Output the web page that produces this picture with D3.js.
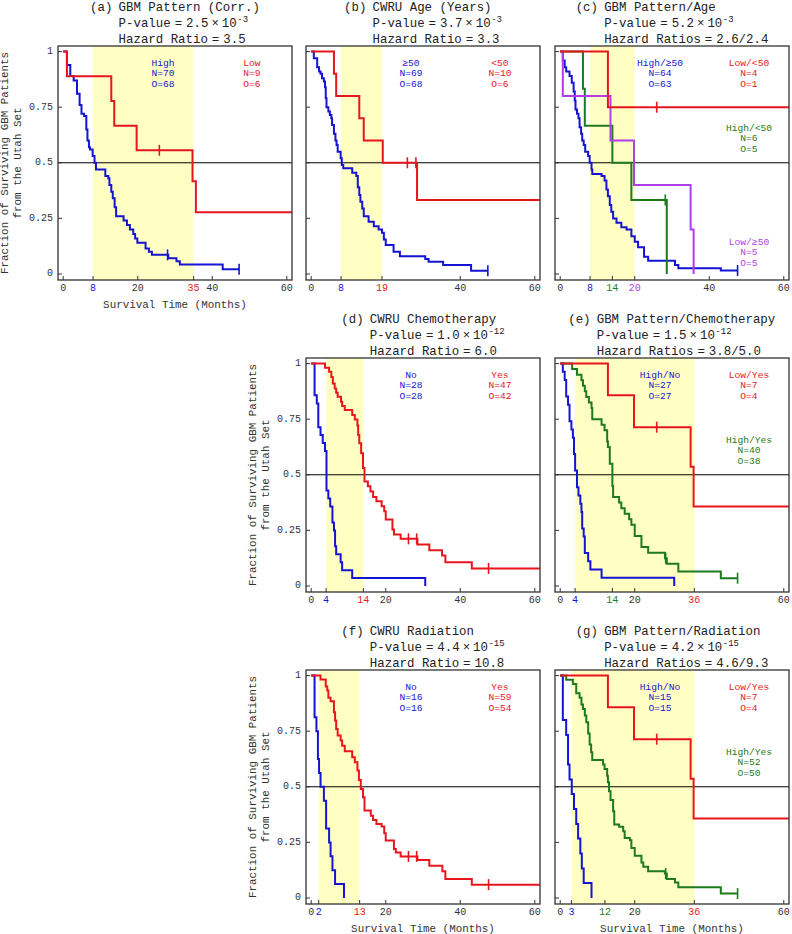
<!DOCTYPE html>
<html><head><meta charset="utf-8">
<script src="https://cdn.jsdelivr.net/npm/d3@7"></script>
<style>
body{margin:0;background:#fff}
svg{display:block}
text{font-family:"Liberation Mono","DejaVu Sans Mono",monospace}
</style>
</head><body>
<svg id="chart" width="792" height="934"></svg>
<script>
// ---------------- DATA ----------------
// Each curve: drop times (T), survival after each drop (S), censor times (C), last follow-up (End)
// (a) GBM Pattern (Corr.)
const aHighT=[1.0,1.9,2.8,3.7,4.4,4.9,5.6,6.2,6.5,6.9,7.2,7.9,8.4,8.8,11.3,12.1,12.4,12.9,13.3,13.8,14.2,16.2,17.1,17.9,18.8,19.3,19.9,22.1,23.0,23.8,28.2,30.4,31.3,42.8];
const aHighS=[0.94,0.89,0.87,0.81,0.76,0.72,0.71,0.65,0.60,0.57,0.56,0.53,0.50,0.47,0.44,0.43,0.40,0.37,0.34,0.30,0.26,0.24,0.22,0.20,0.18,0.16,0.14,0.115,0.10,0.086,0.071,0.057,0.043,0.021];
const aHighC=[28.0,47.2]; const aHighEnd=47.2;
const aLowT=[1.0,12.9,13.7,19.7,34.7,35.6];
const aLowS=[0.889,0.778,0.667,0.556,0.417,0.278];
const aLowC=[25.8]; const aLowEnd=62;
// (b) CWRU Age
const bOldT=[0.7,1.6,2.1,2.5,2.9,3.4,3.7,3.9,4.1,4.6,5.0,5.4,5.6,6.1,6.5,6.8,7.1,7.9,8.2,8.6,11.0,12.1,12.5,12.9,13.2,13.7,14.1,15.4,16.8,18.1,19.0,19.5,20.0,22.1,23.8,30.6,31.5,35.4,42.9];
const bOldS=[0.97,0.93,0.91,0.90,0.88,0.865,0.84,0.79,0.75,0.73,0.715,0.70,0.67,0.63,0.60,0.58,0.55,0.52,0.49,0.475,0.455,0.44,0.39,0.355,0.325,0.295,0.26,0.235,0.215,0.20,0.185,0.155,0.13,0.10,0.08,0.067,0.055,0.04,0.015];
const bOldC=[47.4]; const bOldEnd=47.4;
const bYoungT=[6.1,6.7,12.9,14.1,19.2,28.4];
const bYoungS=[0.9,0.8,0.7,0.6,0.5,0.333];
const bYoungC=[25.8,28.1]; const bYoungEnd=62;
// (c) GBM Pattern/Age
const cHighOldT=[0.7,1.2,1.6,2.5,3.1,3.6,3.9,4.1,4.5,4.9,5.2,5.6,5.9,6.3,6.7,7.5,7.9,8.4,8.6,11.1,11.9,12.4,12.8,13.3,13.7,14.2,15.1,16.4,17.8,19.1,20.0,20.9,22.5,23.6,30.8,31.7,43.1];
const cHighOldS=[0.96,0.93,0.91,0.89,0.86,0.82,0.78,0.74,0.72,0.70,0.66,0.63,0.60,0.58,0.55,0.53,0.50,0.47,0.45,0.44,0.42,0.38,0.35,0.31,0.28,0.25,0.23,0.21,0.20,0.17,0.145,0.12,0.078,0.06,0.04,0.026,0.016];
const cHighOldC=[47.6]; const cHighOldEnd=47.6;
const cHighYoungT=[6.1,6.6,14.0,19.1,28.6];
const cHighYoungS=[0.833,0.667,0.5,0.333,0];
const cHighYoungC=[28.2]; const cHighYoungEnd=28.6;
const cLowOldT=[0.7,13.5,19.8,35.0,35.8];
const cLowOldS=[0.8,0.6,0.4,0.2,0];
const cLowOldC=[]; const cLowOldEnd=35.8;
const cLowYoungT=[12.8];
const cLowYoungS=[0.75];
const cLowYoungC=[25.9]; const cLowYoungEnd=62;
// (d) CWRU Chemotherapy
const dNoT=[0.9,1.5,1.9,2.5,3.1,3.7,4.1,4.6,5.1,5.7,6.1,6.4,6.7,7.9,8.3,11.0,30.6];
const dNoS=[0.857,0.821,0.714,0.679,0.643,0.607,0.429,0.393,0.357,0.286,0.25,0.179,0.143,0.107,0.071,0.036,0];
const dNoC=[]; const dNoEnd=30.6;
const dYesT=[3.7,4.8,5.4,5.8,6.3,6.7,7.1,8.0,8.3,9.0,11.0,11.7,12.4,12.6,12.9,13.4,13.9,14.3,15.2,15.9,16.6,17.5,18.9,19.6,20.0,21.8,22.2,24.0,28.5,31.7,35.1,36.0,43.1];
const dYesS=[0.981,0.963,0.94,0.91,0.888,0.869,0.851,0.828,0.809,0.791,0.769,0.749,0.721,0.679,0.642,0.597,0.53,0.47,0.448,0.425,0.40,0.381,0.358,0.336,0.299,0.254,0.231,0.212,0.187,0.161,0.137,0.107,0.079];
const dYesC=[26.1,28.3,47.6]; const dYesEnd=62;
// (e) GBM Pattern/Chemotherapy
const eHighNoT=[0.7,1.2,1.6,2.1,2.5,3.0,3.4,3.7,4.0,4.5,4.9,5.4,5.7,5.9,6.3,6.6,7.5,8.1,11.1,30.6];
const eHighNoS=[0.963,0.926,0.852,0.815,0.741,0.704,0.667,0.593,0.519,0.444,0.407,0.370,0.333,0.259,0.222,0.148,0.111,0.074,0.037,0];
const eHighNoC=[]; const eHighNoEnd=30.6;
const eHighYesT=[3.2,4.5,5.7,6.1,6.6,7.0,7.7,8.4,8.6,11.1,11.9,12.6,12.8,13.3,14.0,14.2,15.8,16.4,17.3,18.5,19.1,20.0,21.8,23.6,28.1,28.6,31.7,43.1];
const eHighYesS=[0.975,0.95,0.925,0.90,0.875,0.85,0.825,0.80,0.75,0.725,0.70,0.65,0.625,0.55,0.45,0.40,0.375,0.35,0.325,0.30,0.275,0.225,0.175,0.15,0.125,0.10,0.065,0.035];
const eHighYesC=[28.3,47.6]; const eHighYesEnd=47.6;
const eLowYesT=[12.8,19.8,35.0,35.8];
const eLowYesS=[0.857,0.714,0.536,0.357];
const eLowYesC=[25.9]; const eLowYesEnd=62;
// (f) CWRU Radiation
const fNoT=[0.9,1.4,1.8,2.1,2.5,3.4,4.0,4.8,5.2,5.7,6.4,8.8];
const fNoS=[0.8125,0.75,0.625,0.5625,0.5,0.4375,0.3125,0.25,0.1875,0.125,0.0625,0];
const fNoC=[]; const fNoEnd=8.8;
const fYesT=[2.5,3.9,4.3,4.6,5.2,6.1,6.4,6.7,7.1,7.9,8.3,9.0,11.0,11.7,12.4,12.8,13.3,13.9,14.3,16.0,16.6,17.5,18.9,19.6,20.0,22.2,22.7,24.0,28.5,31.7,35.2,36.0,43.1];
const fYesS=[0.982,0.951,0.933,0.90,0.885,0.835,0.798,0.76,0.73,0.708,0.685,0.66,0.633,0.61,0.573,0.531,0.49,0.453,0.393,0.37,0.351,0.333,0.321,0.291,0.258,0.22,0.205,0.187,0.171,0.145,0.12,0.085,0.06];
const fYesC=[26.1,28.3,47.6]; const fYesEnd=62;
// (g) GBM Pattern/Radiation
const gHighNoT=[0.7,1.6,2.1,2.5,3.1,3.7,4.3,4.8,5.4,5.8,6.3,8.4];
const gHighNoS=[0.8,0.733,0.6,0.533,0.467,0.4,0.333,0.267,0.2,0.133,0.067,0];
const gHighNoC=[]; const gHighNoEnd=8.4;
const gHighYesT=[1.6,3.4,4.3,5.2,5.7,6.1,6.6,7.0,7.5,7.9,8.3,8.6,11.5,11.9,12.6,12.8,13.1,13.5,14.2,14.5,15.8,16.9,17.3,18.7,19.1,20.0,21.8,22.3,23.6,28.1,28.6,30.8,31.7,43.1];
const gHighYesS=[0.981,0.962,0.92,0.90,0.87,0.85,0.82,0.79,0.74,0.69,0.655,0.62,0.60,0.58,0.55,0.52,0.48,0.44,0.39,0.33,0.32,0.30,0.27,0.26,0.225,0.19,0.16,0.14,0.12,0.11,0.085,0.07,0.048,0.02];
const gHighYesC=[28.3,47.6]; const gHighYesEnd=47.6;
const gLowYesT=[12.8,19.8,35.0,35.8];
const gLowYesS=[0.857,0.714,0.536,0.357];
const gLowYesC=[25.9]; const gLowYesEnd=62;

// Tick labels
const yTickValues=[0,0.25,0.5,0.75,1];
const yTickLabels=["0","0.25","0.5","0.75","1"];

// Titles / statistics
const panelLetters=["(a)","(b)","(c)","(d)","(e)","(f)","(g)"];
const panelTitles=["GBM Pattern (Corr.)","CWRU Age (Years)","GBM Pattern/Age","CWRU Chemotherapy","GBM Pattern/Chemotherapy","CWRU Radiation","GBM Pattern/Radiation"];
const pMantissa=["2.5","3.7","5.2","1.0","1.5","4.4","4.2"];
const pExponent=["-3","-3","-3","-12","-12","-15","-15"];
const hrLabels=["Hazard Ratio","Hazard Ratio","Hazard Ratios","Hazard Ratio","Hazard Ratios","Hazard Ratio","Hazard Ratios"];
const hrValues=["3.5","3.3","2.6/2.4","6.0","3.8/5.0","10.8","4.6/9.3"];
// median survival (shaded band limits)
const bands=[[8,35],[8,19],[8,20],[4,14],[4,36],[2,13],[3,36]];

// ---------------- STYLE / LAYOUT ----------------
const BLUE="#1414d2", RED="#e8161c", GREEN="#1d7a1d", PURPLE="#b03ee8", BANDC="#ffffc4", FRAME="#333";
const W=234, H=234;
const xDomain=[-1.4,61.4], yDomain=[-0.027,1.025];

const C=(T,S,Cn,End,color)=>({T,S,C:Cn,End,color});
const panels=[
 {i:0,left:58,top:46,ylab:true,xlab:true,
  curves:[C(aHighT,aHighS,aHighC,aHighEnd,BLUE),C(aLowT,aLowS,aLowC,aLowEnd,RED)],
  xt:[[0],[20],[40],[60],[8,BLUE],[35,RED]],
  leg:[{dx:105,dy:17,c:BLUE,l:["High","N=70","O=68"]},{dx:194,dy:17,c:RED,l:["Low","N=9","O=6"]}]},
 {i:1,left:306,top:46,
  curves:[C(bOldT,bOldS,bOldC,bOldEnd,BLUE),C(bYoungT,bYoungS,bYoungC,bYoungEnd,RED)],
  xt:[[0],[40],[60],[8,BLUE],[19,RED]],
  leg:[{dx:105,dy:17,c:BLUE,l:["≥50","N=69","O=68"]},{dx:194,dy:17,c:RED,l:["<50","N=10","O=6"]}]},
 {i:2,left:555,top:46,
  curves:[C(cHighOldT,cHighOldS,cHighOldC,cHighOldEnd,BLUE),C(cHighYoungT,cHighYoungS,cHighYoungC,cHighYoungEnd,GREEN),C(cLowOldT,cLowOldS,cLowOldC,cLowOldEnd,PURPLE),C(cLowYoungT,cLowYoungS,cLowYoungC,cLowYoungEnd,RED)],
  xt:[[0],[40],[60],[8,BLUE],[14,GREEN],[20,PURPLE]],
  leg:[{dx:105,dy:17,c:BLUE,l:["High/≥50","N=64","O=63"]},{dx:194,dy:17,c:RED,l:["Low/<50","N=4","O=1"]},
       {dx:194,dy:82,c:GREEN,l:["High/<50","N=6","O=5"]},{dx:194,dy:196,c:PURPLE,l:["Low/≥50","N=5","O=5"]}]},
 {i:3,left:306,top:358,ylab:true,
  curves:[C(dNoT,dNoS,dNoC,dNoEnd,BLUE),C(dYesT,dYesS,dYesC,dYesEnd,RED)],
  xt:[[0],[20],[40],[60],[4,BLUE],[14,RED]],
  leg:[{dx:105,dy:17,c:BLUE,l:["No","N=28","O=28"]},{dx:194,dy:17,c:RED,l:["Yes","N=47","O=42"]}]},
 {i:4,left:555,top:358,
  curves:[C(eHighNoT,eHighNoS,eHighNoC,eHighNoEnd,BLUE),C(eHighYesT,eHighYesS,eHighYesC,eHighYesEnd,GREEN),C(eLowYesT,eLowYesS,eLowYesC,eLowYesEnd,RED)],
  xt:[[0],[20],[60],[4,BLUE],[14,GREEN],[36,RED]],
  leg:[{dx:105,dy:17,c:BLUE,l:["High/No","N=27","O=27"]},{dx:194,dy:17,c:RED,l:["Low/Yes","N=7","O=4"]},
       {dx:194,dy:82,c:GREEN,l:["High/Yes","N=40","O=38"]}]},
 {i:5,left:306,top:670,ylab:true,xlab:true,
  curves:[C(fNoT,fNoS,fNoC,fNoEnd,BLUE),C(fYesT,fYesS,fYesC,fYesEnd,RED)],
  xt:[[0],[20],[40],[60],[2,BLUE],[13,RED]],
  leg:[{dx:105,dy:17,c:BLUE,l:["No","N=16","O=16"]},{dx:194,dy:17,c:RED,l:["Yes","N=59","O=54"]}]},
 {i:6,left:555,top:670,xlab:true,
  curves:[C(gHighNoT,gHighNoS,gHighNoC,gHighNoEnd,BLUE),C(gHighYesT,gHighYesS,gHighYesC,gHighYesEnd,GREEN),C(gLowYesT,gLowYesS,gLowYesC,gLowYesEnd,RED)],
  xt:[[0],[20],[60],[3,BLUE],[12,GREEN],[36,RED]],
  leg:[{dx:105,dy:17,c:BLUE,l:["High/No","N=15","O=15"]},{dx:194,dy:17,c:RED,l:["Low/Yes","N=7","O=4"]},
       {dx:194,dy:82,c:GREEN,l:["High/Yes","N=52","O=50"]}]}
];

const svg=d3.select("#chart");
const defs=svg.append("defs");

function survAt(c,t){let s=1;c.T.forEach((tt,k)=>{if(tt<=t)s=c.S[k];});return s;}

panels.forEach(p=>{
  const i=p.i;
  const x=d3.scaleLinear().domain(xDomain).range([p.left,p.left+W]);
  const y=d3.scaleLinear().domain(yDomain).range([p.top+H,p.top]);
  const g=svg.append("g");
  const clipId="clip"+i;
  defs.append("clipPath").attr("id",clipId).append("rect")
    .attr("x",p.left).attr("y",p.top).attr("width",W).attr("height",H);

  // shaded band between medians
  g.append("rect").attr("x",x(bands[i][0])).attr("y",p.top)
    .attr("width",x(bands[i][1])-x(bands[i][0])).attr("height",H).attr("fill",BANDC);
  // 0.5 reference line
  g.append("line").attr("x1",p.left).attr("x2",p.left+W).attr("y1",y(0.5)).attr("y2",y(0.5))
    .attr("stroke","#000").attr("stroke-width",1);

  // curves
  const line=d3.line().x(d=>x(d[0])).y(d=>y(d[1])).curve(d3.curveStepAfter);
  const cg=g.append("g").attr("clip-path","url(#"+clipId+")");
  p.curves.forEach(c=>{
    const pts=[[0,1]];
    c.T.forEach((t,k)=>pts.push([t,c.S[k]]));
    pts.push([c.End,c.S.length?c.S[c.S.length-1]:1]);
    cg.append("path").attr("d",line(pts)).attr("fill","none")
      .attr("stroke",c.color).attr("stroke-width",2).attr("stroke-linejoin","miter");
    c.C.forEach(ct=>{
      const s=survAt(c,ct);
      cg.append("line").attr("x1",x(ct)).attr("x2",x(ct)).attr("y1",y(s)-5.5).attr("y2",y(s)+5.5)
        .attr("stroke",c.color).attr("stroke-width",1.6);
    });
  });

  // legends
  p.leg.forEach(L=>{
    L.l.forEach((t,k)=>{
      g.append("text").attr("x",p.left+L.dx).attr("y",p.top+L.dy+k*10.5)
        .attr("text-anchor","middle").attr("dominant-baseline","central")
        .attr("font-size",9.6).attr("fill",L.c).text(t);
    });
  });

  // frame
  g.append("rect").attr("x",p.left).attr("y",p.top).attr("width",W).attr("height",H)
    .attr("fill","none").attr("stroke",FRAME).attr("stroke-width",1.3);

  // x ticks
  p.xt.forEach(([v,col])=>{
    g.append("line").attr("x1",x(v)).attr("x2",x(v)).attr("y1",p.top+H).attr("y2",p.top+H-4)
      .attr("stroke",FRAME).attr("stroke-width",1);
    g.append("text").attr("x",x(v)).attr("y",p.top+H+8).attr("text-anchor","middle")
      .attr("dominant-baseline","central").attr("font-size",10).attr("fill",col||"#333").text(v);
  });
  // y ticks
  yTickValues.forEach((v,k)=>{
    g.append("line").attr("x1",p.left).attr("x2",p.left+4).attr("y1",y(v)).attr("y2",y(v))
      .attr("stroke",FRAME).attr("stroke-width",1);
    if(p.ylab){
      g.append("text").attr("x",p.left-5).attr("y",y(v)).attr("text-anchor","end")
        .attr("dominant-baseline","central").attr("font-size",10).attr("fill","#333").text(yTickLabels[k]);
    }
  });
  if(p.ylab){
    const cy=p.top+H/2;
    [["Fraction of Surviving GBM Patients",-53],["from the Utah Set",-40]].forEach(([t,o])=>{
      g.append("text").attr("transform",`translate(${p.left+o},${cy}) rotate(-90)`)
        .attr("text-anchor","middle").attr("dominant-baseline","central")
        .attr("font-size",10.9).attr("fill","#333").text(t);
    });
  }
  if(p.xlab){
    g.append("text").attr("x",p.left+W/2).attr("y",p.top+H+25).attr("text-anchor","middle")
      .attr("dominant-baseline","central").attr("font-size",10.9).attr("fill","#333").text("Survival Time (Months)");
  }

  // title block
  const tg=svg.append("g").attr("font-size",12.4).attr("fill","#222");
  const tx=28.5;
  tg.append("text").attr("x",0).attr("y",p.top-35.5).text(panelLetters[i]);
  tg.append("text").attr("x",tx).attr("y",p.top-35.5).text(panelTitles[i]);
  const t2=tg.append("text").attr("x",tx).attr("y",p.top-19);
  t2.append("tspan").text("P-value");
  t2.append("tspan").attr("dx",4).text("=");
  t2.append("tspan").attr("dx",4).text(pMantissa[i]);
  t2.append("tspan").attr("dx",3).text("×");
  t2.append("tspan").attr("dx",3).text("10");
  t2.append("tspan").attr("dy",-5).attr("dx",0.5).attr("font-size",9).text(pExponent[i]);
  const t3=tg.append("text").attr("x",tx).attr("y",p.top-3);
  t3.append("tspan").text(hrLabels[i]);
  t3.append("tspan").attr("dx",4).text("=");
  t3.append("tspan").attr("dx",4).text(hrValues[i]);
  const bb=tg.node().getBBox();
  tg.attr("transform",`translate(${p.left+W/2-(bb.x+bb.width/2)},0)`);
});
</script>
</body></html>
